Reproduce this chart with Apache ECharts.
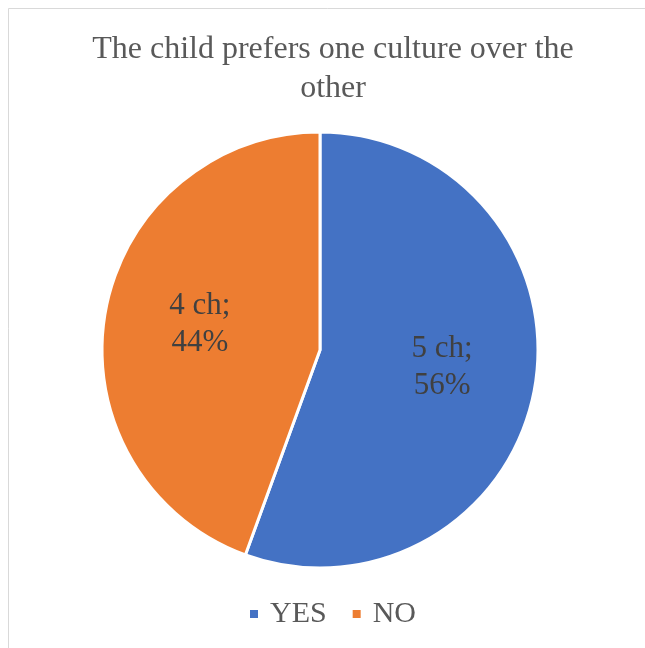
<!DOCTYPE html>
<html>
<head>
<meta charset="utf-8">
<script src="https://cdn.jsdelivr.net/npm/echarts@6/dist/echarts.min.js"></script>
<style>
  html, body { margin: 0; padding: 0; background: #ffffff; }
  #chart { width: 645px; height: 648px; }
</style>
</head>
<body>
<div id="chart"></div>
<script>
// Survey answers: number of children per answer
const categories = ['YES', 'NO'];
const counts = [5, 4];
const colors = ['#4472C4', '#ED7D31'];
const titleText = 'The child prefers one culture over the\nother';

const total = counts.reduce((a, b) => a + b, 0);
const pieData = categories.map((name, i) => ({
  name: name,
  value: counts[i],
  itemStyle: { color: colors[i] }
}));

const serif = '"Liberation Serif", "Times New Roman", serif';

const chart = echarts.init(document.getElementById('chart'));
chart.setOption({
  backgroundColor: '#ffffff',
  animation: false,
  graphic: [{
    type: 'rect',
    silent: true,
    shape: { x: 8.5, y: 8.5, width: 700, height: 700 },
    style: { fill: 'none', stroke: '#d9d9d9', lineWidth: 1 }
  }],
  title: {
    text: titleText,
    left: 328,
    top: 25,
    textAlign: 'center',
    textStyle: {
      fontFamily: serif,
      fontSize: 32,
      fontWeight: 'normal',
      color: '#595959',
      lineHeight: 39
    }
  },
  legend: {
    data: categories,
    left: 243,
    top: 594,
    icon: 'rect',
    itemWidth: 10,
    itemHeight: 10,
    itemGap: 24,
    textStyle: {
      fontFamily: serif,
      fontSize: 30,
      color: '#595959',
      padding: [0, 0, 0, 6]
    }
  },
  series: [{
    type: 'pie',
    center: [320, 350],
    radius: [0, 218],
    startAngle: 90,
    clockwise: true,
    data: pieData,
    label: { show: false },
    labelLine: { show: false },
    itemStyle: { borderColor: '#ffffff', borderWidth: 3 },
    emphasis: { disabled: true }
  }, {
    // transparent ring used only to place the value labels
    type: 'pie',
    center: [321, 346],
    radius: [0, 240],
    startAngle: 90,
    clockwise: true,
    silent: true,
    data: pieData.map(d => ({ name: d.name, value: d.value, itemStyle: { color: 'rgba(0,0,0,0)' } })),
    itemStyle: { color: 'rgba(0,0,0,0)' },
    label: {
      show: true,
      position: 'inside',
      formatter: p => p.value + ' ch;\n' + Math.round(p.value / total * 100) + '%',
      fontFamily: serif,
      fontSize: 31,
      lineHeight: 37,
      color: '#404040'
    },
    labelLine: { show: false },
    emphasis: { disabled: true }
  }]
});
</script>
</body>
</html>
